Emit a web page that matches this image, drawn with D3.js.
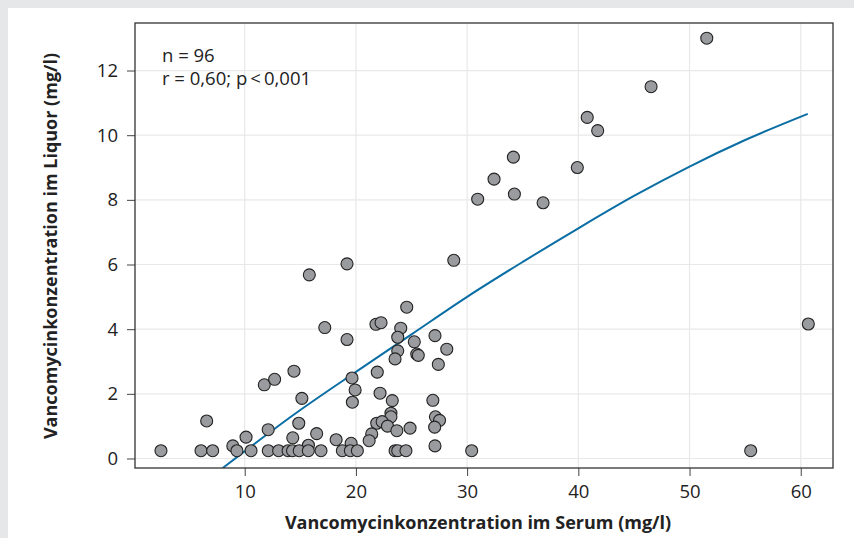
<!DOCTYPE html>
<html>
<head>
<meta charset="utf-8">
<script src="https://cdn.jsdelivr.net/npm/d3@7"></script>
<style>
  body { margin: 0; background: #e6e7e9; }
  text { font-family: "Open Sans", "Noto Sans", sans-serif; fill: #222; }
</style>
</head>
<body>
<div id="chart"></div>
<script>
// Vancomycin: serum (x) vs. liquor (y), mg/l
const serum = [
  51.55, 46.54, 40.8, 41.74, 34.16, 32.42, 30.95, 34.25, 36.83, 39.91, 60.68, 55.5, 28.8,
  15.81, 19.2, 17.2, 19.2, 21.8, 22.26, 24.57, 24.03, 23.76, 23.76, 23.52, 25.25, 25.47, 25.61, 27.11, 28.17, 27.41,
  6.58, 8.93, 10.12, 11.76, 12.69, 14.43, 15.14, 12.11, 14.86, 14.32, 16.47, 15.73, 18.22,
  19.65, 19.93, 19.68, 19.57, 21.92, 22.17, 23.27, 23.15, 23.15, 21.87, 22.36, 22.84, 23.68, 24.87,
  21.42, 21.19, 26.92, 27.15, 27.52, 27.08, 27.11,
  2.47, 6.07, 7.12, 9.3, 10.57, 12.12, 13.05, 13.9, 14.3, 14.9, 15.72, 16.86, 18.78, 19.5, 20.13,
  23.52, 23.76, 24.5, 30.41
];
const liquor = [
  13.0, 11.5, 10.55, 10.14, 9.32, 8.64, 8.02, 8.18, 7.91, 9.0, 4.16, 0.24, 6.13,
  5.68, 6.02, 4.05, 3.68, 4.15, 4.2, 4.68, 4.03, 3.75, 3.33, 3.08, 3.61, 3.23, 3.19, 3.8, 3.38, 2.91,
  1.16, 0.39, 0.66, 2.28, 2.45, 2.7, 1.86, 0.89, 1.09, 0.64, 0.77, 0.41, 0.58,
  2.49, 2.12, 1.74, 0.47, 2.67, 2.02, 1.79, 1.4, 1.29, 1.09, 1.14, 1.0, 0.86, 0.94,
  0.76, 0.55, 1.8, 1.29, 1.18, 0.97, 0.39,
  0.24, 0.24, 0.24, 0.24, 0.24, 0.24, 0.24, 0.24, 0.24, 0.24, 0.24, 0.24, 0.24, 0.24, 0.24,
  0.24, 0.24, 0.24, 0.24
];

// fitted curve
const fitSerum  = [8, 15, 20, 25, 30, 35, 40, 45, 50, 55, 60.63];
const fitLiquor = [-0.3, 1.5, 2.68, 3.84, 5.0, 6.08, 7.12, 8.12, 9.03, 9.85, 10.66];

const xTicks = [10, 20, 30, 40, 50, 60];
const yTicks = [0, 2, 4, 6, 8, 10, 12];
const notes = ["n = 96", "r = 0,60; p\u2009<\u20090,001"];

const W = 854, H = 538;
const box = { left: 135, right: 833, top: 23, bottom: 468 };

const svg = d3.select("#chart")
  .append("svg")
  .attr("width", W)
  .attr("height", H);

svg.append("rect")
  .attr("x", 8).attr("y", 8)
  .attr("width", W - 8).attr("height", H - 8)
  .attr("fill", "#fff");

const x = d3.scaleLinear()
  .domain([0.135, 62.9])
  .range([box.left, box.right]);

const y = d3.scaleLinear()
  .domain([-0.294, 13.47])
  .range([box.bottom, box.top]);

// grid
svg.append("g")
  .selectAll("line")
  .data(xTicks)
  .join("line")
  .attr("x1", d => x(d)).attr("x2", d => x(d))
  .attr("y1", box.top).attr("y2", box.bottom)
  .attr("stroke", "#e8e8e8").attr("stroke-width", 1.2);

svg.append("g")
  .selectAll("line")
  .data(yTicks)
  .join("line")
  .attr("y1", d => y(d)).attr("y2", d => y(d))
  .attr("x1", box.left).attr("x2", box.right)
  .attr("stroke", "#e8e8e8").attr("stroke-width", 1.2);

// axes
const xAxis = svg.append("g")
  .attr("transform", `translate(0,${box.bottom})`)
  .call(d3.axisBottom(x).tickValues(xTicks).tickSize(8).tickPadding(9).tickSizeOuter(0));

const yAxis = svg.append("g")
  .attr("transform", `translate(${box.left},0)`)
  .call(d3.axisLeft(y).tickValues(yTicks).tickSize(8).tickPadding(9).tickSizeOuter(0));

[xAxis, yAxis].forEach(g => {
  g.select(".domain").remove();
  g.selectAll(".tick line").attr("stroke", "#444").attr("stroke-width", 1);
  g.selectAll(".tick text")
    .attr("font-family", "'Open Sans', sans-serif")
    .attr("font-size", 18.5)
    .attr("fill", "#3a3a3a");
});

// clip for the fit line
svg.append("clipPath").attr("id", "plotclip")
  .append("rect")
  .attr("x", box.left).attr("y", box.top)
  .attr("width", box.right - box.left).attr("height", box.bottom - box.top);

const fit = fitSerum.map((d, i) => [d, fitLiquor[i]]);
svg.append("path")
  .datum(fit)
  .attr("clip-path", "url(#plotclip)")
  .attr("fill", "none")
  .attr("stroke", "#0a6ea4")
  .attr("stroke-width", 2)
  .attr("d", d3.line().x(d => x(d[0])).y(d => y(d[1])).curve(d3.curveMonotoneX));

// points
svg.append("g")
  .selectAll("circle")
  .data(serum.map((d, i) => [d, liquor[i]]))
  .join("circle")
  .attr("cx", d => x(d[0]))
  .attr("cy", d => y(d[1]))
  .attr("r", 6)
  .attr("fill", "#9a9b9e")
  .attr("stroke", "#222")
  .attr("stroke-width", 1.1);

// frame
svg.append("rect")
  .attr("x", box.left).attr("y", box.top)
  .attr("width", box.right - box.left).attr("height", box.bottom - box.top)
  .attr("fill", "none")
  .attr("stroke", "#333")
  .attr("stroke-width", 1.3);

// annotation
svg.append("g")
  .selectAll("text")
  .data(notes)
  .join("text")
  .attr("x", 162)
  .attr("y", (d, i) => 62 + i * 23)
  .attr("font-size", 18.5)
  .attr("fill", "#333")
  .text(d => d);

// axis titles
svg.append("text")
  .attr("x", 478)
  .attr("y", 529)
  .attr("text-anchor", "middle")
  .attr("font-weight", "bold")
  .attr("font-size", 18)
  .text("Vancomycinkonzentration im Serum (mg/l)");

svg.append("text")
  .attr("transform", `translate(57,246) rotate(-90)`)
  .attr("text-anchor", "middle")
  .attr("font-weight", "bold")
  .attr("font-size", 18)
  .text("Vancomycinkonzentration im Liquor (mg/l)");
</script>
</body>
</html>
